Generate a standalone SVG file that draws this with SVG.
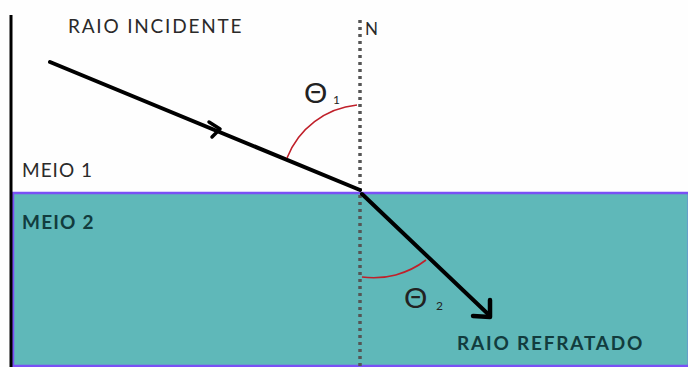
<svg xmlns="http://www.w3.org/2000/svg" width="688" height="367" viewBox="0 0 688 367">
<style>
.lbl{font-family:"Lato","Liberation Sans",sans-serif;font-size:19px;fill:#2a2a2a;letter-spacing:1px}
.lblb{font-family:"Lato","Liberation Sans",sans-serif;font-size:19px;font-weight:bold;fill:#123c3e;letter-spacing:1.2px}
.wide{letter-spacing:1.8px}
.theta{font-family:"Liberation Sans",sans-serif;font-size:30px;fill:#222}
.sub{font-family:"Lato","Liberation Sans",sans-serif;font-size:12px;fill:#222}
.ray{stroke:#000;stroke-width:4;fill:none;stroke-linecap:round}
.arc{stroke:#c0202a;stroke-width:1.6;fill:none}
</style>
<rect width="688" height="367" fill="#fefefe"/>
<g id="meio2">
<rect x="13" y="193" width="676" height="173" fill="#5fb8b9" stroke="#7a50f5" stroke-width="2.5"/>
<text class="lblb" x="22" y="229">MEIO 2</text>
</g>
<g id="wall">
<line x1="11" y1="15" x2="11" y2="367" stroke="#000" stroke-width="3"/>
</g>
<g id="meio1">
<text class="lbl" x="22" y="177">MEIO 1</text>
</g>
<g id="normal">
<line x1="360" y1="20" x2="360" y2="367" stroke="#555" stroke-width="3.5" stroke-dasharray="3,4"/>
<text class="lbl" x="365" y="35" style="font-size:17px">N</text>
</g>
<g id="connectors">
<path class="ray" d="M50,62 L360,190"/>
<path d="M209,122 L220,129 L212,137" fill="none" stroke="#000" stroke-width="3.5" stroke-linecap="round" stroke-linejoin="round"/>
<path class="ray" d="M362,194 L488,314"/>
<path d="M473,316 L490,317 L490,300" fill="none" stroke="#000" stroke-width="4.5" stroke-linecap="round" stroke-linejoin="round"/>
</g>
<g id="theta1">
<path class="arc" d="M287,158 A84,84 0 0 1 357,105"/>
<text class="theta" x="304" y="103">Θ</text>
<text class="sub" x="333" y="104">1</text>
</g>
<g id="theta2">
<path class="arc" d="M362,277 A86,86 0 0 0 426,260"/>
<text class="theta" x="404" y="308">Θ</text>
<text class="sub" x="436" y="310">2</text>
</g>
<g id="labels">
<text class="lbl wide" x="68" y="33">RAIO INCIDENTE</text>
<text class="lblb wide" x="457" y="350">RAIO REFRATADO</text>
</g>
</svg>
